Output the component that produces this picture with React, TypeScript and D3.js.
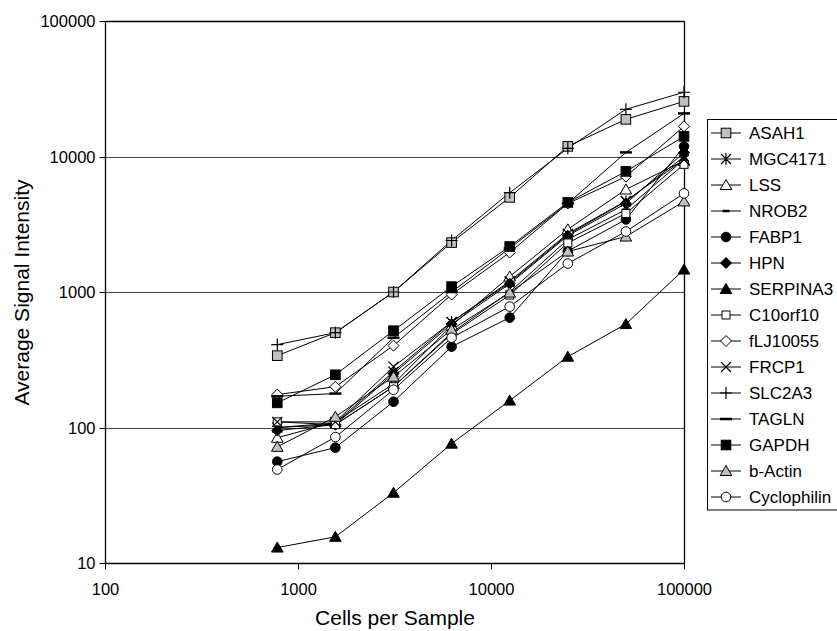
import React, { useEffect, useRef } from 'react'
import * as d3 from 'd3'

// cells per sample (x) and the genes plotted
const CELLS = [781, 1562, 3125, 6250, 12500, 25000, 50000, 100000]
const X_TICKS = [100, 1000, 10000, 100000]
const Y_TICKS = [10, 100, 1000, 10000, 100000]

const GENES = [
  'ASAH1', 'MGC4171', 'LSS', 'NROB2', 'FABP1', 'HPN', 'SERPINA3', 'C10orf10',
  'fLJ10055', 'FRCP1', 'SLC2A3', 'TAGLN', 'GAPDH', 'b-Actin', 'Cyclophilin'
]

const ASAH1 = [339, 501, 1000, 2317, 4990, 11880, 18800, 25500]
const MGC4171 = [100, 108, 258, 600, 1174, 2650, 4660, 9950]
const LSS = [84, 110, 210, 565, 1300, 2900, 5710, 9300]
const NROB2 = [100, 105, 200, 500, 1000, 2440, 4060, 9500]
const FABP1 = [56, 71, 155, 395, 647, 2000, 3430, 11880]
const HPN = [95, 105, 250, 580, 1150, 2600, 4500, 10700]
const SERPINA3 = [13, 15.6, 33, 76, 158, 333, 580, 1465]
const C10orf10 = [110, 105, 200, 490, 950, 2300, 3800, 8750]
const fLJ10055 = [175, 200, 402, 957, 1956, 4500, 7100, 16700]
const FRCP1 = [110, 110, 281, 600, 1200, 2700, 4700, 9500]
const SLC2A3 = [409, 501, 1000, 2400, 5400, 11500, 22300, 29800]
const TAGLN = [170, 178, 460, 1000, 2100, 4500, 10720, 20800]
const GAPDH = [152, 245, 518, 1096, 2166, 4580, 7760, 14080]
const bActin = [72, 120, 237, 527, 990, 1990, 2566, 4660]
const Cyclophilin = [49, 85, 190, 460, 780, 1622, 2795, 5340]

const VALUES = [ASAH1, MGC4171, LSS, NROB2, FABP1, HPN, SERPINA3, C10orf10,
  fLJ10055, FRCP1, SLC2A3, TAGLN, GAPDH, bActin, Cyclophilin]

// marker shape + fill per gene
const MARKERS: [string, string][] = [
  ['square', '#c0c0c0'], ['asterisk', 'none'], ['triangle', '#fff'], ['dash', 'none'],
  ['circle', '#000'], ['diamond', '#000'], ['triangle', '#000'], ['smallsquare', '#fff'],
  ['diamond', '#fff'], ['x', 'none'], ['plus', 'none'], ['longdash', 'none'],
  ['square', '#000'], ['triangle', '#c0c0c0'], ['circle', '#fff']
]

const FONT = '"Liberation Sans", Arial, Helvetica, sans-serif'

function drawMarker(g: d3.Selection<SVGGElement, unknown, null, undefined>, type: string, fill: string, x: number, y: number) {
  const s = 4.8
  if (type === 'square' || type === 'smallsquare') {
    const r = type === 'square' ? s : 4
    g.append('rect').attr('x', x - r).attr('y', y - r).attr('width', 2 * r).attr('height', 2 * r)
      .attr('fill', fill).attr('stroke', '#000').attr('stroke-width', 1)
  } else if (type === 'circle') {
    g.append('circle').attr('cx', x).attr('cy', y).attr('r', s).attr('fill', fill).attr('stroke', '#000')
  } else if (type === 'triangle') {
    g.append('path').attr('d', `M${x},${y - 5.5}L${x + 5.8},${y + 4.5}L${x - 5.8},${y + 4.5}Z`)
      .attr('fill', fill).attr('stroke', '#000')
  } else if (type === 'diamond') {
    g.append('path').attr('d', `M${x},${y - 5.5}L${x + 5.5},${y}L${x},${y + 5.5}L${x - 5.5},${y}Z`)
      .attr('fill', fill).attr('stroke', '#000')
  } else if (type === 'x') {
    g.append('path').attr('d', `M${x - 5},${y - 5}L${x + 5},${y + 5}M${x - 5},${y + 5}L${x + 5},${y - 5}`)
      .attr('stroke', '#000').attr('stroke-width', 1.2)
  } else if (type === 'asterisk') {
    g.append('path').attr('d', `M${x - 5},${y - 5}L${x + 5},${y + 5}M${x - 5},${y + 5}L${x + 5},${y - 5}M${x},${y - 6}L${x},${y + 6}`)
      .attr('stroke', '#000').attr('stroke-width', 1.2)
  } else if (type === 'plus') {
    g.append('path').attr('d', `M${x - 6},${y}L${x + 6},${y}M${x},${y - 6}L${x},${y + 6}`)
      .attr('stroke', '#000').attr('stroke-width', 1.2)
  } else if (type === 'dash') {
    g.append('path').attr('d', `M${x - 3.5},${y}L${x + 3.5},${y}`).attr('stroke', '#000').attr('stroke-width', 2.5)
  } else if (type === 'longdash') {
    g.append('path').attr('d', `M${x - 6},${y}L${x + 6},${y}`).attr('stroke', '#000').attr('stroke-width', 2.5)
  }
}

export default function App() {
  const ref = useRef<SVGSVGElement>(null)

  useEffect(() => {
    if (!ref.current) return
    const svg = d3.select(ref.current)
    svg.selectAll('*').remove()

    const x = d3.scaleLog().domain([100, 100000]).range([105, 684])
    const y = d3.scaleLog().domain([10, 100000]).range([563, 21])

    const g = svg.append('g')

    // gridlines at each decade
    Y_TICKS.slice(1, -1).forEach(t => {
      g.append('line').attr('x1', x(100)).attr('x2', x(100000))
        .attr('y1', Math.round(y(t)) + 0.5).attr('y2', Math.round(y(t)) + 0.5)
        .attr('stroke', '#444').attr('stroke-width', 1)
    })

    // frame
    const top = Math.round(y(100000)) + 0.5
    const bottom = Math.round(y(10)) + 0.5
    const left = Math.round(x(100)) + 0.5
    const right = Math.round(x(100000)) + 0.5
    g.append('line').attr('x1', left).attr('x2', right).attr('y1', top).attr('y2', top).attr('stroke', '#000').attr('stroke-width', 1.3)
    g.append('line').attr('x1', right).attr('x2', right).attr('y1', top).attr('y2', bottom).attr('stroke', '#000').attr('stroke-width', 1.3)
    g.append('line').attr('x1', left).attr('x2', left).attr('y1', top).attr('y2', bottom).attr('stroke', '#000').attr('stroke-width', 1.3)
    g.append('line').attr('x1', left).attr('x2', right).attr('y1', bottom).attr('y2', bottom).attr('stroke', '#000').attr('stroke-width', 1.6)

    // y ticks
    Y_TICKS.forEach(t => {
      const ty = Math.round(y(t)) + 0.5
      g.append('line').attr('x1', left - 6).attr('x2', left).attr('y1', ty).attr('y2', ty).attr('stroke', '#000')
      g.append('text').attr('x', left - 10).attr('y', ty).attr('dy', '0.36em')
        .attr('text-anchor', 'end').attr('font-family', FONT).attr('font-size', 16.5).text(String(t))
    })
    // x ticks
    X_TICKS.forEach(t => {
      const tx = Math.round(x(t)) + 0.5
      g.append('line').attr('x1', tx).attr('x2', tx).attr('y1', bottom).attr('y2', bottom + 6).attr('stroke', '#000')
      g.append('text').attr('x', tx).attr('y', 595)
        .attr('text-anchor', 'middle').attr('font-family', FONT).attr('font-size', 16.5).text(String(t))
    })

    // axis titles
    g.append('text').attr('x', (left + right) / 2).attr('y', 625).attr('text-anchor', 'middle')
      .attr('font-family', FONT).attr('font-size', 21).text('Cells per Sample')
    g.append('text').attr('transform', `translate(29,${(top + bottom) / 2}) rotate(-90)`).attr('text-anchor', 'middle')
      .attr('font-family', FONT).attr('font-size', 21).text('Average Signal Intensity')

    // series
    const line = d3.line<number>().x((_, i) => x(CELLS[i])).y(d => y(d))
    VALUES.forEach(vals => {
      g.append('path').attr('d', line(vals) as string).attr('fill', 'none').attr('stroke', '#000').attr('stroke-width', 1)
    })
    VALUES.forEach((vals, k) => {
      const [type, fill] = MARKERS[k]
      vals.forEach((v, i) => drawMarker(g, type, fill, x(CELLS[i]), y(v)))
    })

    // legend
    const lg = svg.append('g')
    const rowH = 26
    const ly0 = 133
    lg.append('rect').attr('x', 707.5).attr('y', ly0 - 13.5).attr('width', 140).attr('height', GENES.length * rowH + 0.5)
      .attr('fill', '#fff').attr('stroke', '#000')
    GENES.forEach((name, k) => {
      const ly = ly0 + k * rowH
      lg.append('line').attr('x1', 711).attr('x2', 741).attr('y1', ly).attr('y2', ly).attr('stroke', '#000')
      const [type, fill] = MARKERS[k]
      drawMarker(lg, type, fill, 726, ly)
      lg.append('text').attr('x', 749).attr('y', ly).attr('dy', '0.36em')
        .attr('font-family', FONT).attr('font-size', 17).text(name)
    })
  }, [])

  return (
    <svg ref={ref} width={837} height={631}
      style={{ position: 'absolute', left: 0, top: 0, background: '#fff' }} />
  )
}
